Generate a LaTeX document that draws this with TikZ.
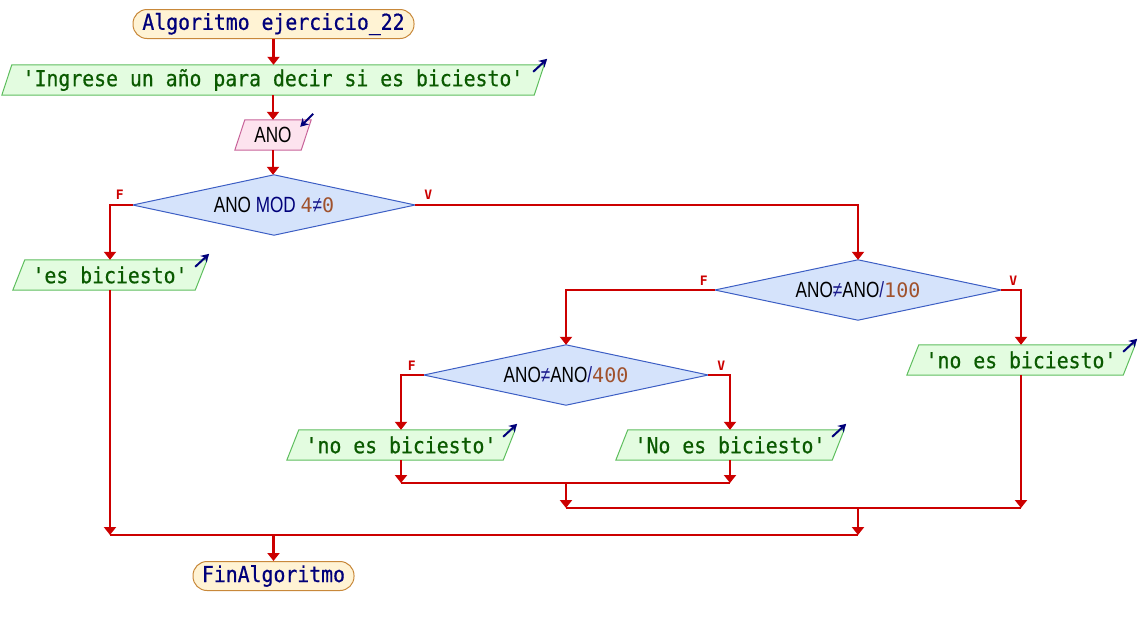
\documentclass[tikz,border=0pt]{standalone}
\usepackage{fontspec}
\usetikzlibrary{arrows.meta,calc}
\newfontfamily\monof[FakeStretch=0.9,FakeBold=0.6]{DejaVu Sans Mono}
\newfontfamily\labf{DejaVu Sans Mono}
\newfontfamily\condf[FakeStretch=0.78]{Liberation Sans}
\newfontfamily\digf{DejaVu Sans Mono}
\definecolor{flow}{HTML}{CC0000}
\definecolor{termfill}{HTML}{FFF3D4}
\definecolor{termdraw}{HTML}{C8883A}
\definecolor{navy}{HTML}{00007A}
\definecolor{outfill}{HTML}{E3FCE0}
\definecolor{outdraw}{HTML}{5EBE5E}
\definecolor{outtext}{HTML}{0A5A00}
\definecolor{infill}{HTML}{FDE3EE}
\definecolor{indraw}{HTML}{C8649A}
\definecolor{decfill}{HTML}{D5E3FB}
\definecolor{decdraw}{HTML}{3C5EC4}
\definecolor{numc}{HTML}{A0522D}
\definecolor{opc}{HTML}{1A1A8C}
\pgfdeclarelayer{bg}
\pgfsetlayers{bg,main}
\tikzset{
  term/.style={draw=termdraw, fill=termfill, line width=1pt, rounded corners=14pt,
    minimum height=29pt, inner sep=0pt, text=navy, font=\monof\fontsize{22}{26}\selectfont},
  iobase/.style={minimum height=30pt, inner sep=0pt, font=\monof\fontsize{22}{26}\selectfont},
  outtxt/.style={iobase, text=outtext},
  intxt/.style={iobase, text=black, font=\condf\fontsize{22}{24}\selectfont},
  outpoly/.style={draw=outdraw, fill=outfill, line width=1pt},
  inpoly/.style={draw=indraw, fill=infill, line width=1pt},
  decbase/.style={minimum height=60pt, inner sep=0pt, font=\condf\fontsize{22}{24}\selectfont},
  decpoly/.style={draw=decdraw, fill=decfill, line width=1pt},
  flowline/.style={draw=flow, line width=2.2pt},
  flowarrow/.style={flowline, -{Triangle[width=12pt,length=8pt]}},
  branchlab/.style={text=flow, font=\labf\bfseries\fontsize{13}{14}\selectfont, inner sep=0pt},
  icon/.style={draw=navy, line width=2pt, -{Stealth[width=9pt,length=8pt]}}
}
\newcommand\numt[1]{\textcolor{numc}{\digf\fontsize{20}{22}\selectfont #1}}
\newcommand\opt[1]{\textcolor{opc}{#1}}
% parallelogram around node #1 with slant #2
\newcommand\parpoly[3]{%
  \begin{pgfonlayer}{bg}
  \path[#3] ($(#1.south west)+(-#2,0)$) -- ($(#1.north west)+(#2,0)$) -- ($(#1.north east)+(#2,0)$) -- ($(#1.south east)+(-#2,0)$) -- cycle;
  \end{pgfonlayer}}
\newcommand\diapoly[1]{%
  \begin{pgfonlayer}{bg}
  \path[decpoly] (#1.north) -- (#1.east) -- (#1.south) -- (#1.west) -- cycle;
  \end{pgfonlayer}}
\newcommand\outicon[1]{\draw[icon] ($(#1.north east)+(-6,7)$) -- ($(#1.north east)+(8,-6)$);}
\begin{document}
\begin{tikzpicture}[x=1pt,y=-1pt]
\useasboundingbox (0,0) rectangle (1140,625);

% nodes
\node[term, minimum width=281pt] (start) at (273.5,24) {Algoritmo ejercicio\_22};
\node[outtxt, minimum width=532pt] (o1) at (273,80) {'Ingrese un año para decir si es biciesto'};
\parpoly{o1}{5}{outpoly}
\node[intxt, minimum width=66pt] (in1) at (273,135) {ANO};
\parpoly{in1}{5}{inpoly}
\node[decbase, minimum width=282pt] (d1) at (274,205) {ANO \textcolor{navy}{MOD} \numt{4}\opt{≠}\numt{0}};
\diapoly{d1}
\node[outtxt, minimum width=182pt] (o2) at (110,275) {'es biciesto'};
\parpoly{o2}{6}{outpoly}
\node[decbase, minimum width=286pt] (d2) at (858,290) {ANO\opt{≠}ANO\opt{/}\numt{100}};
\diapoly{d2}
\node[outtxt, minimum width=216pt] (o3) at (1021,360) {'no es biciesto'};
\parpoly{o3}{6}{outpoly}
\node[decbase, minimum width=284pt] (d3) at (566,375) {ANO\opt{≠}ANO\opt{/}\numt{400}};
\diapoly{d3}
\node[outtxt, minimum width=216pt] (o4) at (401,445) {'no es biciesto'};
\parpoly{o4}{6}{outpoly}
\node[outtxt, minimum width=216pt] (o5) at (730,445) {'No es biciesto'};
\parpoly{o5}{6}{outpoly}
\node[term, minimum width=161pt] (end) at (273.5,576) {FinAlgoritmo};

% join coordinates
\coordinate (j3l) at (401,483);
\coordinate (j3r) at (730,483);
\coordinate (j2l) at (566,508);
\coordinate (j2r) at (1021,508);
\coordinate (j1l) at (110,535);
\coordinate (j1r) at (858,535);

% icons
\outicon{o1}
\outicon{o2}
\outicon{o3}
\outicon{o4}
\outicon{o5}
\draw[icon] ($(in1.north east)+(7,-6)$) -- ($(in1.north east)+(-6,7)$);

% connectors
\draw[flowarrow] (start.south) -- (start.south |- o1.north);
\draw[flowarrow] (o1.south) -- (in1.north);
\draw[flowarrow] (in1.south) -- (in1.south |- d1.north);
\draw[flowarrow] (d1.west) -| (o2.north);
\draw[flowarrow] (d1.east) -| (d2.north);
\draw[flowarrow] (d2.west) -| (d3.north);
\draw[flowarrow] (d2.east) -| (o3.north);
\draw[flowarrow] (d3.west) -| (o4.north);
\draw[flowarrow] (d3.east) -| (o5.north);
\draw[flowarrow] (o4.south) -- (j3l);
\draw[flowarrow] (o5.south) -- (j3r);
\draw[flowline] (j3l) -- (j3r);
\draw[flowarrow] (d3.south |- j3l) -- (j2l);
\draw[flowarrow] (o3.south) -- (j2r);
\draw[flowline] (j2l) -- (j2r);
\draw[flowarrow] (d2.south |- j2l) -- (j1r);
\draw[flowarrow] (o2.south) -- (j1l);
\draw[flowline] (j1l) -- (j1r);
\draw[flowarrow] (end.north |- j1l) -- (end.north);

% branch labels
\node[branchlab] (f1) at ($(d1.west)+(-13,-10)$) {F};
\node[branchlab] (v1) at ($(d1.east)+(13,-10)$) {V};
\node[branchlab] (f2) at ($(d2.west)+(-11,-9)$) {F};
\node[branchlab] (v2) at ($(d2.east)+(12,-9)$) {V};
\node[branchlab] (f3) at ($(d3.west)+(-12,-9)$) {F};
\node[branchlab] (v3) at ($(d3.east)+(13,-9)$) {V};
\end{tikzpicture}
\end{document}
